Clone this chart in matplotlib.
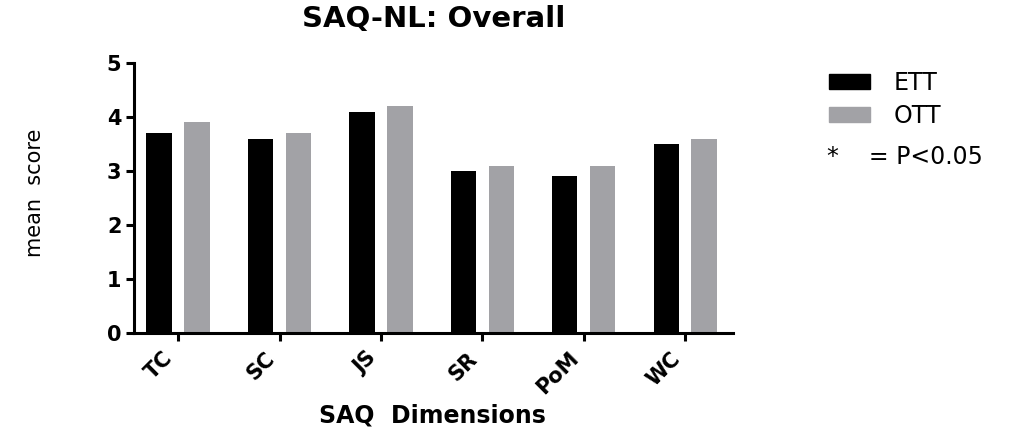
import numpy as np
import matplotlib.pyplot as plt
import matplotlib.transforms as mtransforms
from matplotlib.patches import Patch

# data
dimensions = ["TC", "SC", "JS", "SR", "PoM", "WC"]
ett_scores = [3.7, 3.6, 4.1, 3.0, 2.9, 3.5]
ott_scores = [3.9, 3.7, 4.2, 3.1, 3.1, 3.6]
series_names = ["ETT", "OTT"]
y_ticks = [0, 1, 2, 3, 4, 5]

plt.rcParams["font.family"] = ["DejaVu Sans"]
gray = "#a2a2a6"

fig = plt.figure(figsize=(10.15, 4.34), dpi=100)
ax = fig.add_axes([0.132, 0.2327, 0.590, 0.622])

x = np.arange(len(dimensions))
w = 0.25
off = 0.187
ax.bar(x - off, ett_scores, width=w, color="black", label=series_names[0])
ax.bar(x + off, ott_scores, width=w, color=gray, label=series_names[1])

ax.set_xlim(-0.435, len(dimensions) - 1 + 0.47)
ax.set_ylim(0, 5)
ax.set_yticks(y_ticks)
ax.set_xticks(x)

for s in ["top", "right"]:
    ax.spines[s].set_visible(False)
for s in ["left", "bottom"]:
    ax.spines[s].set_linewidth(2.2)
ax.tick_params(axis="both", direction="out", width=2.2, length=6, pad=3)
ax.tick_params(axis="x", pad=5)

ax.set_xticklabels(dimensions, rotation=45, ha="right", rotation_mode="anchor",
                   fontsize=15, fontweight="bold")
# nudge rotated labels left, like the original (after tick_params, which resets transforms)
shift = mtransforms.ScaledTranslation(-11 / 72, 0, fig.dpi_scale_trans)
for lab in ax.get_xticklabels():
    lab.set_transform(lab.get_transform() + shift)
for lab in ax.get_yticklabels():
    lab.set_fontsize(15)
    lab.set_fontweight("bold")

fig.text(0.427, 1 - 19 / 434, "SAQ-NL: Overall", fontsize=21, fontweight="bold",
         ha="center", va="center")
fig.text(0.426, 1 - 416 / 434, "SAQ  Dimensions", fontsize=17, fontweight="bold",
         ha="center", va="center")
fig.text(0.034, 1 - 193 / 434, "mean  score", rotation=90, fontsize=15,
         ha="center", va="center")

handles = [Patch(color="black"), Patch(color=gray)]
fig.legend(handles, series_names, loc="upper left", bbox_to_anchor=(0.800, 0.875),
           frameon=False, fontsize=17, handlelength=1.75, handleheight=0.6,
           handletextpad=1.0, labelspacing=0.38, borderpad=0.2)
fig.text(827 / 1015, 1 - 157 / 434, "*    = P<0.05", fontsize=17, ha="left", va="center")

fig.savefig("out.png", dpi=100)
